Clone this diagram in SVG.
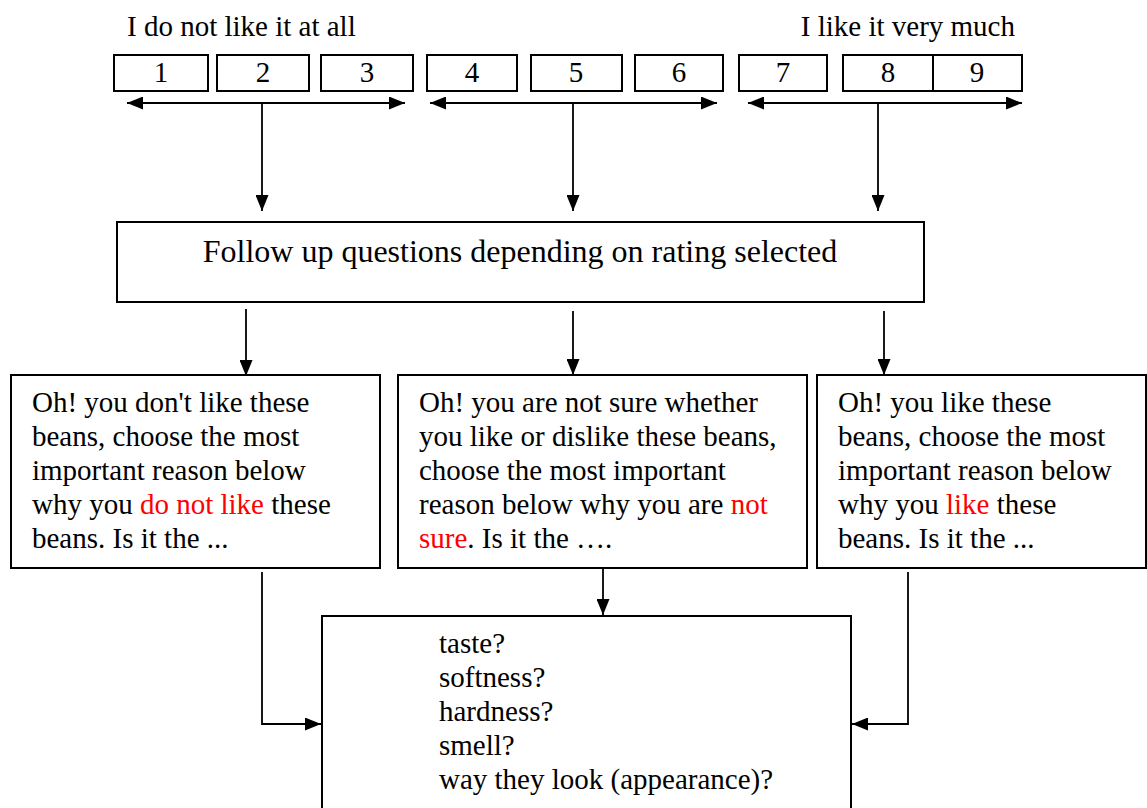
<svg xmlns="http://www.w3.org/2000/svg" width="1147" height="808" viewBox="0 0 1147 808">
<style>
text{font-family:"Liberation Serif","Times New Roman",serif;font-size:29px;fill:#000}
.box{fill:#fff;stroke:#000;stroke-width:2}
.c{fill:none;stroke:#000;stroke-width:1.8}
.num{text-anchor:middle}
.red{fill:#ff0000}
</style>
<defs>
<marker id="ah" markerUnits="userSpaceOnUse" markerWidth="16" markerHeight="13" refX="16" refY="6.5" orient="auto-start-reverse" viewBox="0 0 16 13">
<path d="M0,0 L16,6.5 L0,13 z" fill="#000"/>
</marker>
</defs>
<rect width="1147" height="808" fill="#fff"/>
<g id="label-dislike"><text x="127" y="36">I do not like it at all</text></g>
<g id="label-like"><text x="1015" y="36" text-anchor="end">I like it very much</text></g>
<g id="r1"><rect class="box" x="114" y="55" width="94" height="36"/><text class="num" x="161" y="82">1</text></g>
<g id="r2"><rect class="box" x="217" y="55" width="92" height="36"/><text class="num" x="263" y="82">2</text></g>
<g id="r3"><rect class="box" x="321" y="55" width="92" height="36"/><text class="num" x="367" y="82">3</text></g>
<g id="r4"><rect class="box" x="427" y="55" width="90" height="36"/><text class="num" x="472" y="82">4</text></g>
<g id="r5"><rect class="box" x="531" y="55" width="91" height="36"/><text class="num" x="576" y="82">5</text></g>
<g id="r6"><rect class="box" x="635" y="55" width="88" height="36"/><text class="num" x="679" y="82">6</text></g>
<g id="r7"><rect class="box" x="739" y="55" width="88" height="36"/><text class="num" x="783" y="82">7</text></g>
<g id="r8"><rect class="box" x="843" y="55" width="90" height="36"/><text class="num" x="888" y="82">8</text></g>
<g id="r9"><rect class="box" x="933" y="55" width="89" height="36"/><text class="num" x="977" y="82">9</text></g>
<g id="followup"><rect class="box" x="117" y="222" width="807" height="80"/><text x="520" y="262" text-anchor="middle" style="font-size:32px">Follow up questions depending on rating selected</text></g>
<g id="dislike-box"><rect class="box" x="11" y="375" width="369" height="193"/>
<text x="32" y="412">Oh! you don't like these</text>
<text x="32" y="446">beans, choose the most</text>
<text x="32" y="480">important reason below</text>
<text x="32" y="514">why you <tspan class="red">do not like</tspan> these</text>
<text x="32" y="548">beans. Is it the ...</text>
</g>
<g id="unsure-box"><rect class="box" x="398" y="375" width="409" height="193"/>
<text x="419" y="412">Oh! you are not sure whether</text>
<text x="419" y="446">you like or dislike these beans,</text>
<text x="419" y="480">choose the most important</text>
<text x="419" y="514">reason below why you are <tspan class="red">not</tspan></text>
<text x="419" y="548"><tspan class="red">sure</tspan>. Is it the ….</text>
</g>
<g id="like-box"><rect class="box" x="817" y="375" width="329" height="193"/>
<text x="838" y="412">Oh! you like these</text>
<text x="838" y="446">beans, choose the most</text>
<text x="838" y="480">important reason below</text>
<text x="838" y="514">why you <tspan class="red">like</tspan> these</text>
<text x="838" y="548">beans. Is it the ...</text>
</g>
<g id="reasons-box"><rect class="box" x="322" y="616" width="529" height="200"/>
<text x="439" y="653">taste?</text>
<text x="439" y="687">softness?</text>
<text x="439" y="721">hardness?</text>
<text x="439" y="755">smell?</text>
<text x="439" y="789">way they look (appearance)?</text>
</g>
<g id="connectors">
<line class="c" x1="127" y1="103" x2="405" y2="103" marker-start="url(#ah)" marker-end="url(#ah)"/>
<line class="c" x1="430" y1="103" x2="717" y2="103" marker-start="url(#ah)" marker-end="url(#ah)"/>
<line class="c" x1="748" y1="103" x2="1022" y2="103" marker-start="url(#ah)" marker-end="url(#ah)"/>
<line class="c" x1="262" y1="103" x2="262" y2="211" marker-end="url(#ah)"/>
<line class="c" x1="573" y1="103" x2="573" y2="211" marker-end="url(#ah)"/>
<line class="c" x1="878" y1="103" x2="878" y2="211" marker-end="url(#ah)"/>
<line class="c" x1="246" y1="309" x2="246" y2="376" marker-end="url(#ah)"/>
<line class="c" x1="573" y1="311" x2="573" y2="375" marker-end="url(#ah)"/>
<line class="c" x1="884" y1="311" x2="884" y2="375" marker-end="url(#ah)"/>
<line class="c" x1="603" y1="568" x2="603" y2="615" marker-end="url(#ah)"/>
<polyline class="c" points="262,572 262,724 321,724" marker-end="url(#ah)"/>
<polyline class="c" points="908,572 908,724 852,724" marker-end="url(#ah)"/>
</g>
</svg>
